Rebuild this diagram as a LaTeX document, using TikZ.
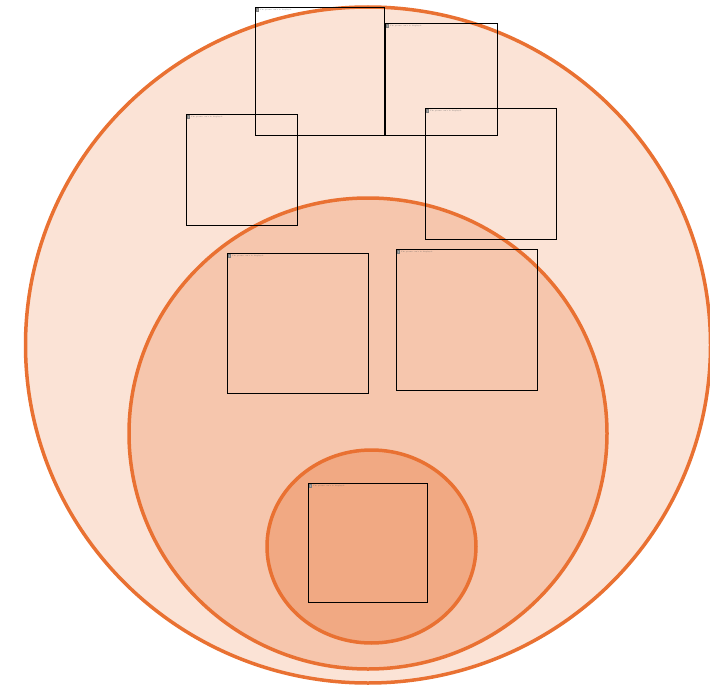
\documentclass[tikz,border=0pt]{standalone}
\begin{document}
\begin{tikzpicture}[x=1pt,y=-1pt]
\definecolor{ringorange}{HTML}{E97132}
\definecolor{fillA}{HTML}{FBE3D6}
\definecolor{fillB}{HTML}{F6C6AD}
\definecolor{fillC}{HTML}{F1A983}
\tikzset{
  ring/.style={draw=ringorange, line width=3.5pt},
  picbox/.style={draw=black, line width=0.8pt},
  placeholder/.style={inner sep=0pt, anchor=north west, font=\fontsize{1.7}{2}\selectfont, text=black!65},
  picicon/.style={fill=gray!70, draw=gray, line width=0.2pt}
}
\useasboundingbox (0,0) rectangle (710,685);
\begin{scope}
\clip (0,0) rectangle (710,685);
\path[ring, fill=fillA] (368,345) ellipse [x radius=342.5, y radius=338];
\path[ring, fill=fillB] (368,433.5) ellipse [x radius=239, y radius=235.5];
\path[ring, fill=fillC] (371.5,546.5) ellipse [x radius=104.5, y radius=96.5];
\end{scope}
\foreach \n/\xa/\ya/\xb/\yb in {b1/255/7/384/135, b2/385/23/497/135, b3/186/114/297/225, b4/425/108/556/239, b5/227/253/368/393, b6/396/249/537/390, b7/308/483/427/602}{
  \node[picbox, minimum width={(\xb-\xa)*1pt}, minimum height={(\yb-\ya)*1pt}, inner sep=0pt, anchor=north west] (\n) at (\xa,\ya) {};
  \fill[picicon] ([xshift=1pt,yshift=-1pt]\n.north west) rectangle ++(2.5pt,-3pt);
  \node[placeholder] (\n t) at ([xshift=5pt,yshift=-2pt]\n.north west) {The picture can't be displayed.};
}
\end{tikzpicture}
\end{document}
